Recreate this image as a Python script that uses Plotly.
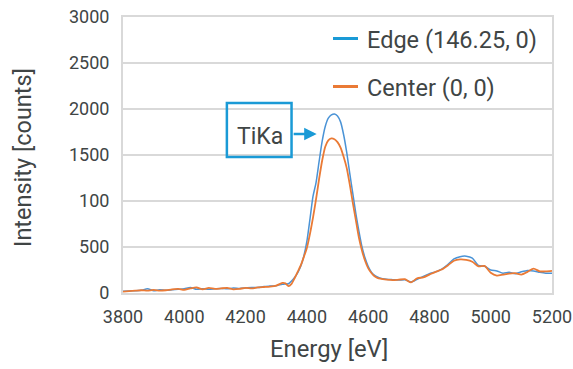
import plotly.graph_objects as go

energy = [3800, 3820, 3840, 3860, 3880, 3900, 3920, 3940, 3960, 3980,
          4000, 4020, 4040, 4060, 4080, 4100, 4120, 4140, 4160, 4180,
          4200, 4220, 4240, 4260, 4280, 4300, 4320, 4330, 4340, 4350,
          4360, 4370, 4380, 4390, 4400, 4410, 4420, 4430, 4440, 4450,
          4460, 4470, 4480, 4490, 4500, 4510, 4520, 4530, 4540, 4550,
          4560, 4570, 4580, 4590, 4600, 4610, 4620, 4630, 4640, 4660,
          4680, 4700, 4720, 4740, 4760, 4780, 4800, 4820, 4840, 4860,
          4880, 4900, 4920, 4940, 4960, 4980, 5000, 5020, 5040, 5060,
          5080, 5100, 5120, 5140, 5160, 5180, 5200]

edge = [20, 22, 25, 30, 45, 25, 35, 30, 35, 40,
        45, 60, 40, 45, 40, 45, 50, 45, 55, 50,
        55, 60, 60, 70, 75, 80, 95, 98, 100, 130,
        170, 220, 290, 400, 560, 800, 1050, 1200, 1430, 1650,
        1810, 1900, 1935, 1945, 1925, 1860, 1720, 1530, 1300, 1080,
        860, 670, 500, 380, 290, 230, 195, 175, 160, 150,
        145, 140, 145, 120, 150, 180, 210, 230, 260, 310,
        370, 395, 400, 380, 300, 290, 250, 240, 215, 225,
        210, 230, 245, 240, 225, 215, 215]

center = [15, 20, 25, 30, 25, 35, 25, 30, 40, 45,
          35, 50, 60, 40, 55, 45, 50, 55, 40, 45,
          55, 50, 60, 65, 70, 80, 110, 105, 75, 100,
          160, 230, 300, 390, 490, 640, 820, 1020, 1240, 1440,
          1590, 1660, 1680, 1672, 1640, 1580, 1480, 1360, 1180, 980,
          790, 600, 460, 350, 270, 220, 185, 165, 155, 145,
          140, 145, 150, 115, 160, 170, 200, 230, 255, 300,
          350, 365, 360, 340, 290, 295, 220, 190, 200, 210,
          215, 200, 230, 265, 235, 235, 240]

x_ticks = [3800, 4000, 4200, 4400, 4600, 4800, 5000, 5200]
y_tickvals = [0, 500, 1000, 1500, 2000, 2500, 3000]
y_ticktext = ["0", "500", "100", "1500", "2000", "2500", "3000"]

series_names = ["Edge (146.25, 0)", "Center (0, 0)"]
x_title = "Energy [eV]"
y_title = "Intensity [counts]"
callout = "TiKa"

blue = "#4a93d6"
orange = "#ea7a35"
accent = "#1a9ad6"
txt = "#404545"
grid = "#d9d9d9"
font_family = "Roboto"

fig = go.Figure()
fig.add_trace(go.Scatter(x=energy, y=edge, mode="lines", name=series_names[0],
                         line=dict(color=blue, width=1.5, shape="spline", smoothing=0.6),
                         showlegend=False))
fig.add_trace(go.Scatter(x=energy, y=center, mode="lines", name=series_names[1],
                         line=dict(color=orange, width=1.8, shape="spline", smoothing=0.6),
                         showlegend=False))

L, R, T, B = 123, 21, 17, 76
W, H = 573, 369
pw, ph = W - L - R, H - T - B

def px2paper(px, py):
    return (px - L) / pw, (H - B - py) / ph

# manual legend
for i, (col, py) in enumerate([(accent, 38.5), (orange, 86.5)]):
    x0, y0 = px2paper(333, py)
    x1, _ = px2paper(358, py)
    fig.add_shape(type="line", xref="paper", yref="paper", x0=x0, x1=x1, y0=y0, y1=y0,
                  line=dict(color=col, width=3))
    tx, ty = px2paper(365, py + 1)
    fig.add_annotation(xref="paper", yref="paper", x=tx, y=ty, text=series_names[i],
                       showarrow=False, xanchor="left", yanchor="middle",
                       font=dict(family=font_family, size=23.5, color=txt))

# axis titles
ax_x, ax_y = px2paper(328.5, 349)
fig.add_annotation(xref="paper", yref="paper", x=ax_x, y=ax_y, text=x_title,
                   showarrow=False, xanchor="center", yanchor="middle",
                   font=dict(family=font_family, size=23.8, color=txt))
ay_x, ay_y = px2paper(23, 158)
fig.add_annotation(xref="paper", yref="paper", x=ay_x, y=ay_y, text=y_title,
                   showarrow=False, xanchor="center", yanchor="middle", textangle=-90,
                   font=dict(family=font_family, size=23.5, color=txt))

# TiKa callout
fig.add_shape(type="rect", xref="x", yref="y", x0=4139, x1=4350, y0=1478, y1=2065,
              line=dict(color=accent, width=2.5), fillcolor="rgba(0,0,0,0)")
fig.add_annotation(xref="x", yref="y", x=4246, y=1700, text=callout, showarrow=False,
                   xanchor="center", yanchor="middle",
                   font=dict(family=font_family, size=23, color=txt))
fig.add_annotation(xref="x", yref="y", x=4432, y=1728, ax=4352, ay=1728,
                   axref="x", ayref="y", text="", showarrow=True,
                   arrowhead=2, arrowsize=1, arrowwidth=2.5, arrowcolor=accent)

fig.update_layout(
    width=W, height=H,
    margin=dict(l=L, r=R, t=T, b=B, autoexpand=False),
    paper_bgcolor="white", plot_bgcolor="white",
    font=dict(family=font_family, color=txt),
    hovermode=False,
    xaxis=dict(range=[3800, 5200], tickvals=x_ticks, showgrid=False,
               showline=True, mirror=True, linecolor=grid, linewidth=2,
               ticks="", tickfont=dict(size=18, color=txt),
               ticklabelstandoff=6, automargin=False, zeroline=False),
    yaxis=dict(range=[0, 3000], tickvals=y_tickvals, ticktext=y_ticktext,
               showgrid=True, gridcolor=grid, gridwidth=2,
               showline=True, mirror=True, linecolor=grid, linewidth=2,
               ticks="", tickfont=dict(size=18, color=txt),
               ticklabelstandoff=8, automargin=False, zeroline=False),
)

fig.write_html("out.html", config={"displayModeBar": False},
               post_script="document.body.style.margin='0';document.body.style.overflow='hidden';")
